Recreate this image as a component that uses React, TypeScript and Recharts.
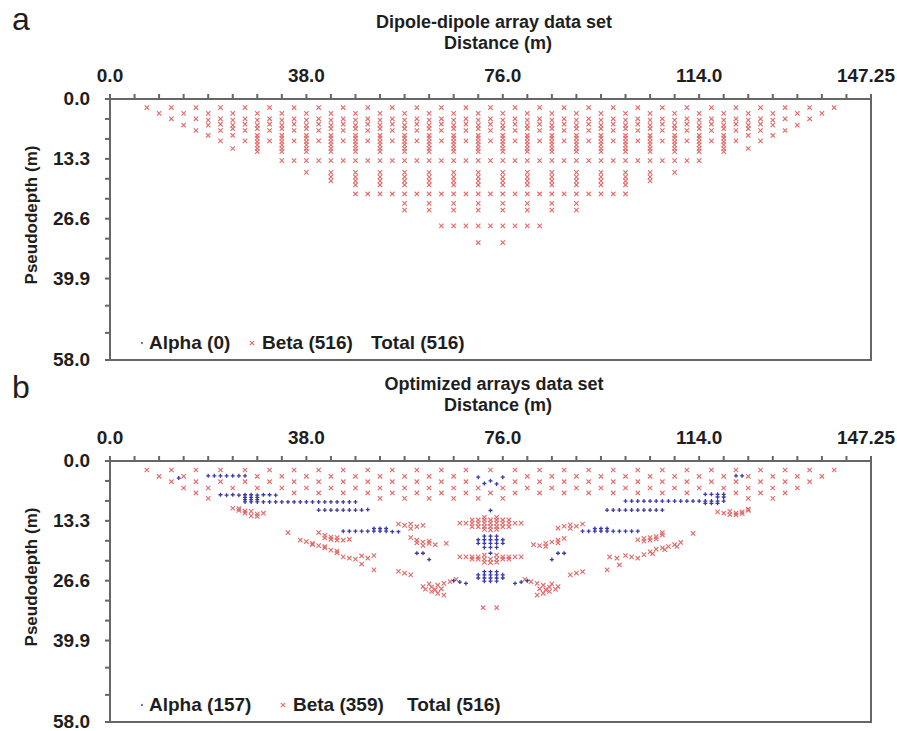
import React from "react";
import { ScatterChart, Scatter, XAxis, YAxis, ReferenceLine } from "recharts";

// electrode grid: 63 electrodes over 147.25 m
const ELECTRODE_SPACING = 2.375;

// ---- axis ticks ----
const xMajorTicks = [0, 38, 76, 114, 147.25];
const xTickLabels = ["0.0", "38.0", "76.0", "114.0", "147.25"];
const xMinorStep = 4.75;
const yTicks = [0, 4.43, 8.87, 13.3, 17.73, 22.17, 26.6, 31.03, 35.47, 39.9, 45.93, 51.97, 58];
const yMajorTicks = [0, 13.3, 26.6, 39.9, 58];
const yTickLabels = ["0.0", "13.3", "26.6", "39.9", "58.0"];

// ---- column sets (electrode index of the data point midpoint) ----
const odd3to59 = [3, 5, 7, 9, 11, 13, 15, 17, 19, 21, 23, 25, 27, 29, 31, 33, 35, 37, 39, 41, 43, 45, 47, 49, 51, 53, 55, 57, 59];
const even4to58 = [4, 6, 8, 10, 12, 14, 16, 18, 20, 22, 24, 26, 28, 30, 32, 34, 36, 38, 40, 42, 44, 46, 48, 50, 52, 54, 56, 58];
const odd5to57 = [5, 7, 9, 11, 13, 15, 17, 19, 21, 23, 25, 27, 29, 31, 33, 35, 37, 39, 41, 43, 45, 47, 49, 51, 53, 55, 57];
const even6to56 = [6, 8, 10, 12, 14, 16, 18, 20, 22, 24, 26, 28, 30, 32, 34, 36, 38, 40, 42, 44, 46, 48, 50, 52, 54, 56];
const odd7to55 = [7, 9, 11, 13, 15, 17, 19, 21, 23, 25, 27, 29, 31, 33, 35, 37, 39, 41, 43, 45, 47, 49, 51, 53, 55];
const even8to54 = [8, 10, 12, 14, 16, 18, 20, 22, 24, 26, 28, 30, 32, 34, 36, 38, 40, 42, 44, 46, 48, 50, 52, 54];
const odd9to53 = [9, 11, 13, 15, 17, 19, 21, 23, 25, 27, 29, 31, 33, 35, 37, 39, 41, 43, 45, 47, 49, 51, 53];
const even10to52 = [10, 12, 14, 16, 18, 20, 22, 24, 26, 28, 30, 32, 34, 36, 38, 40, 42, 44, 46, 48, 50, 52];
const even12to50 = [12, 14, 16, 18, 20, 22, 24, 26, 28, 30, 32, 34, 36, 38, 40, 42, 44, 46, 48, 50];
const all14to48 = [14, 15, 16, 17, 18, 19, 20, 21, 22, 23, 24, 25, 26, 27, 28, 29, 30, 31, 32, 33, 34, 35, 36, 37, 38, 39, 40, 41, 42, 43, 44, 45, 46, 47, 48];
const even16to46 = [16, 18, 20, 22, 24, 26, 28, 30, 32, 34, 36, 38, 40, 42, 44, 46];
const even18to44 = [18, 20, 22, 24, 26, 28, 30, 32, 34, 36, 38, 40, 42, 44];
const even20to42 = [20, 22, 24, 26, 28, 30, 32, 34, 36, 38, 40, 42];
const all20to42 = [20, 21, 22, 23, 24, 25, 26, 27, 28, 29, 30, 31, 32, 33, 34, 35, 36, 37, 38, 39, 40, 41, 42];
const even24to38 = [24, 26, 28, 30, 32, 34, 36, 38];
const all27to35 = [27, 28, 29, 30, 31, 32, 33, 34, 35];

// ---- (a) dipole-dipole data set: all beta ----
const ddDepths = [1.9, 3.2, 4.4, 4.7, 5.6, 5.8, 6.6, 7.0, 8.1, 8.7, 9.3, 9.5, 10.2, 11.0, 11.7, 13.7, 16.3, 17.3, 18.2, 19.1, 21.1, 23.2, 24.7, 28.2, 31.9];
const ddColumns = [
  odd3to59, even4to58, odd5to57, even8to54, odd9to53, even6to56, even10to52, odd7to55,
  even8to54, even12to50, odd9to53, even12to50, even12to50, even10to52, even12to50,
  all14to48, even16to46, even18to44, even18to44, even20to42, all20to42,
  even24to38, even24to38, all27to35, [30, 32],
];

// ---- (b) optimized data set ----
const optDepths = [2.0, 3.4, 4.6, 6.0, 7.1, 8.3];
const optColumns = [
  odd3to59,
  [4, 6, 12, 14, 16, 18, 20, 22, 24, 26, 28, 34, 36, 38, 40, 42, 44, 46, 48, 50, 52, 54, 56, 58],
  [5, 7, 9, 11, 13, 15, 17, 19, 21, 23, 25, 27, 29, 33, 35, 37, 39, 41, 43, 45, 47, 49, 51, 53, 55, 57],
  even6to56,
  [7, 15, 17, 19, 21, 23, 25, 27, 29, 31, 33, 35, 37, 39, 41, 43, 45, 47, 51, 53, 55],
  [8, 22, 24, 26, 28, 30, 32, 52, 54],
];

// beta clusters [electrode index, depth m]
const optBetaClusters: [number, number][] = [
  [10, 10.5], [10.5, 11.0], [11, 11.6], [11.5, 11.2], [12, 11.8], [11.5, 12.2], [12.5, 11.6], [11, 11.1], [12, 12.3], [10.5, 10.6],
  [14.5, 15.9], [17, 15.9], [17.5, 16.5], [18, 16.9], [18, 17.4], [18.5, 17.0], [19, 17.6], [17.5, 17.1], [18.5, 17.6], [19.5, 17.4],
  [15.5, 17.6], [16, 17.9], [16.5, 18.3], [17, 18.8], [17.5, 19.3], [18, 19.8], [18.5, 20.4], [19, 21.3], [19.5, 21.6], [20, 21.8],
  [20.5, 21.1], [21, 21.6], [21.5, 21.0], [16.5, 18.6], [17.5, 19.0], [18.5, 20.0],
  [20.5, 22.9], [21.5, 24.2], [23.5, 24.5], [24, 24.9], [24.5, 25.3],
  [23.5, 14.0], [24, 14.3], [24.5, 14.0], [25, 14.6], [25.5, 14.3], [24.5, 15.0],
  [24.5, 17.0], [25, 17.6], [25.5, 18.0], [26, 18.3], [26.5, 18.6], [25, 18.2], [25.5, 18.8], [26, 17.8], [27.4, 18.3],
  [28.2, 26.3], [27.7, 26.8], [27.2, 27.2], [26.7, 27.6], [26.2, 28.0], [25.7, 28.5], [26.2, 29.0], [26.7, 29.4], [27.2, 29.8],
  [26, 27.3], [27, 28.4], [25.5, 27.9], [26.5, 28.6],
  [29.5, 13.1], [30, 13.1], [30.5, 13.1], [31, 13.1], [31.5, 13.1], [32, 13.1], [32.5, 13.1],
  [28.5, 13.8], [29, 13.8], [29.5, 13.8], [30, 13.8], [30.5, 13.8], [31, 13.8], [31.5, 13.8], [32, 13.8], [32.5, 13.8], [33, 13.8], [33.5, 13.8],
  [29.5, 14.6], [30, 14.6], [30.5, 14.6], [31, 14.6], [31.5, 14.6], [32, 14.6], [32.5, 14.6],
  [30.5, 12.5], [31.5, 12.5], [30.5, 15.2], [31, 15.3], [31.5, 15.2],
  [28.5, 21.3], [29, 21.3], [29.5, 21.3], [30, 21.3], [32, 21.3], [32.5, 21.3], [33, 21.3], [33.5, 21.3],
  [29.5, 21.8], [30, 21.8], [30.5, 21.8], [31, 21.8], [31.5, 21.8], [32, 21.8], [32.5, 21.8],
  [30.5, 22.5], [31, 22.6], [31.5, 22.5], [30.5, 20.9], [31.5, 20.9],
  [30.4, 32.6], [31.5, 32.6],
  [49.5, 11.3], [50, 11.6], [50.5, 11.9], [51, 11.6], [51.5, 11.3], [52, 11.0], [50.5, 11.2], [51, 12.0], [51.5, 11.7], [52, 10.7],
  [43, 17.5], [43.5, 17.2], [44, 17.0], [44, 17.6], [44.5, 16.8], [45, 16.4], [43.5, 17.8], [44.5, 17.3], [45, 15.9], [47.5, 16.1],
  [40.7, 21.3], [41.3, 21.6], [42, 21.0], [42.5, 21.3], [43, 21.6], [43.5, 20.8], [44, 20.2], [44.5, 19.6], [45, 19.3], [45.5, 19.0],
  [46, 18.6], [46.5, 18.1], [44.2, 20.6], [45.2, 19.7], [46.2, 19.0], [41.5, 23.1],
  [37.5, 25.3], [38, 24.9], [38.5, 24.6], [40.5, 24.2],
  [36.5, 14.9], [37, 14.5], [37.5, 14.2], [38, 14.5], [38.5, 14.0], [37.5, 15.0],
  [34.5, 18.6], [35, 18.8], [35.5, 18.3], [36, 18.0], [36.5, 17.6], [37, 17.2], [35.5, 19.0], [36.5, 18.2],
  [33.8, 26.3], [34.3, 26.8], [34.8, 27.2], [35.3, 27.6], [35.8, 28.0], [36.3, 28.5], [35.8, 29.0], [35.3, 29.4], [34.8, 29.8],
  [36, 27.3], [35, 28.4], [36.5, 27.9], [35.5, 28.6],
];

// alpha points [electrode index, depth m]
const optAlpha: [number, number][] = [
  [5.6, 3.8],
  [8, 3.3], [8.5, 3.3], [9, 3.3], [9.5, 3.3], [10, 3.3], [10.5, 3.3], [11, 3.3],
  [9, 7.5], [9.5, 7.6], [10, 7.5], [10.5, 7.6], [11, 7.5], [11.5, 7.5], [12, 7.6], [12.5, 7.5], [13, 7.5], [13.5, 7.6],
  [11, 8.1], [11.5, 8.1], [12, 8.1], [11, 8.6], [11.5, 8.6], [12, 8.6],
  [11, 9.1], [11.5, 9.1], [12, 9.1], [12.5, 9.1], [13, 9.1], [13.5, 9.1], [14, 9.1], [14.5, 9.1], [15, 9.1], [15.5, 9.1],
  [16, 9.1], [16.5, 9.1], [17, 9.1], [17.5, 9.1], [18, 9.1], [18.5, 9.1], [19, 9.1], [19.5, 9.1], [20, 9.1],
  [17, 10.9], [17.5, 10.9], [18, 10.9], [18.5, 10.9], [19, 10.9], [19.5, 10.9], [20, 10.9], [20.5, 10.9], [21, 10.8],
  [19, 15.6], [19.5, 15.6], [20, 15.6], [20.5, 15.6], [21, 15.6], [21.5, 15.6], [22, 15.6], [22.5, 15.6], [23, 15.7], [23.5, 15.7],
  [21.5, 15.0], [22, 15.0], [22.5, 15.0],
  [25, 20.5], [25.5, 20.5], [26, 21.9],
  [30, 3.6], [30.5, 5.0], [31, 4.4], [31.5, 5.1], [32, 3.6],
  [31, 11.0],
  [30.5, 16.7], [31, 16.7], [31.5, 16.7],
  [30, 17.5], [30.5, 17.5], [31, 17.5], [31.5, 17.5], [32, 17.5],
  [30, 18.3], [30.5, 18.3], [31, 18.3], [31.5, 18.3], [32, 18.3],
  [30.5, 19.2], [31, 19.2], [31.5, 19.2],
  [31, 20.5],
  [30.5, 24.6], [31, 24.6], [31.5, 24.6],
  [30, 25.3], [30.5, 25.3], [31, 25.3], [31.5, 25.3], [32, 25.3],
  [30, 26.0], [30.5, 26.0], [31, 26.0], [31.5, 26.0], [32, 26.0],
  [30.5, 26.7], [31, 26.7], [31.5, 26.7],
  [28, 26.6], [28.5, 26.9], [29, 27.2], [33, 27.2], [33.5, 26.9], [34, 26.6],
  [51, 3.3], [51.5, 3.3],
  [48.5, 7.4], [49, 7.4], [49.5, 7.4], [50, 7.4], [49.5, 8.0], [50, 8.0],
  [42, 8.9], [42.5, 8.9], [43, 8.9], [43.5, 8.9], [44, 8.9], [44.5, 8.9], [45, 8.9], [45.5, 8.9], [46, 8.9],
  [46.5, 8.9], [47, 8.9], [47.5, 8.9], [48, 8.9], [48.5, 8.9], [49, 8.9], [49.5, 8.9], [50, 8.9],
  [48.5, 9.4], [49, 9.4], [49.5, 9.4],
  [40.5, 10.9], [41, 10.9], [41.5, 10.9], [42, 10.9], [42.5, 10.9], [43, 10.9], [43.5, 10.9], [44, 10.9], [44.5, 10.9], [45, 10.9],
  [38.5, 15.6], [39, 15.6], [39.5, 15.6], [40, 15.6], [40.5, 15.6], [41, 15.6], [41.5, 15.6], [42, 15.6], [42.5, 15.6], [43, 15.6],
  [39.5, 15.0], [40, 15.0], [40.5, 15.0],
  [36, 21.9], [36.5, 20.5], [37, 20.5],
];

// ---- build scatter data ----
type Pt = { x: number; y: number };
const fromRows = (depths: number[], cols: number[][]): Pt[] =>
  depths.flatMap((d, i) => cols[i].map((k) => ({ x: k * ELECTRODE_SPACING, y: d })));
const fromPairs = (pairs: [number, number][]): Pt[] =>
  pairs.map(([k, d]) => ({ x: k * ELECTRODE_SPACING, y: d }));

const ddBeta = fromRows(ddDepths, ddColumns);
const optBeta = [...fromRows(optDepths, optColumns), ...fromPairs(optBetaClusters)];
const optAlphaPts = fromPairs(optAlpha);

const xTicks: number[] = [];
for (let v = 0; v <= 147.25; v += xMinorStep) xTicks.push(v);

// ---- look ----
const FONT = '"Liberation Sans", Arial, Helvetica, sans-serif';
const BETA_COLOR = "#e26a6a";
const ALPHA_COLOR = "#3b3ba6";
const AXIS_COLOR = "#666666";
const TEXT_COLOR = "#1e1e1e";
const PLOT_TOP = 99;
const PLOT_LEFT = 110;
const PLOT_W = 761;
const PLOT_H = 261;
const PANEL_B_TOP = 362;
const X_DOMAIN: [number, number] = [0, 147.25];
const Y_DOMAIN: [number, number] = [0, 58];

const BetaMark = (p: any) => {
  const { cx, cy } = p;
  if (cx == null || cy == null) return <g />;
  const r = 2.2;
  return (
    <path
      d={`M${cx - r},${cy - r}L${cx + r},${cy + r}M${cx - r},${cy + r}L${cx + r},${cy - r}`}
      stroke={BETA_COLOR}
      strokeWidth={1.1}
      fill="none"
    />
  );
};

const AlphaMark = (p: any) => {
  const { cx, cy } = p;
  if (cx == null || cy == null) return <g />;
  const r = 2;
  return (
    <path
      d={`M${cx - r},${cy}L${cx + r},${cy}M${cx},${cy - r}L${cx},${cy + r}`}
      stroke={ALPHA_COLOR}
      strokeWidth={1.3}
      fill="none"
    />
  );
};

// x ticks: short mark on the frame, label for the major values
const XTick = (p: any) => {
  const i = xMajorTicks.indexOf(p.payload.value);
  const last = i === xMajorTicks.length - 1;
  return (
    <g>
      <rect x={p.x - 1} y={PLOT_TOP - 5} width={2} height={5} fill={AXIS_COLOR} />
      {i >= 0 && (
        <text
          x={last ? p.x + 24 : p.x}
          y={PLOT_TOP - 17}
          textAnchor={last ? "end" : "middle"}
          fontFamily={FONT}
          fontSize={19}
          fontWeight="bold"
          fill={TEXT_COLOR}
        >
          {xTickLabels[i]}
        </text>
      )}
    </g>
  );
};

// y ticks: short mark on the frame plus label for the major values
const YTick = (p: any) => {
  const i = yMajorTicks.indexOf(p.payload.value);
  return (
    <g>
      <rect x={PLOT_LEFT - 5} y={p.y - 1} width={5} height={2} fill={AXIS_COLOR} />
      {i >= 0 && (
        <text
          x={PLOT_LEFT - 20}
          y={p.y + 6}
          textAnchor="end"
          fontFamily={FONT}
          fontSize={19}
          fontWeight="bold"
          fill={TEXT_COLOR}
        >
          {yTickLabels[i]}
        </text>
      )}
    </g>
  );
};

interface PanelProps {
  top: number;
  height: number;
  alpha: Pt[];
  beta: Pt[];
}

function Panel({ top, height, alpha, beta }: PanelProps) {
  return (
    <div style={{ position: "absolute", left: 0, top }}>
      <ScatterChart
        width={897}
        height={height}
        margin={{ top: PLOT_TOP - 30, right: 26, bottom: height - PLOT_TOP - PLOT_H, left: PLOT_LEFT - 60 }}
      >
        <XAxis
          type="number"
          dataKey="x"
          orientation="top"
          height={30}
          domain={X_DOMAIN}
          ticks={xTicks}
          interval={0}
          tick={XTick}
          tickLine={false}
          axisLine={false}
        />
        <YAxis
          type="number"
          dataKey="y"
          width={60}
          domain={Y_DOMAIN}
          reversed
          ticks={yTicks}
          interval={0}
          tick={YTick}
          tickLine={false}
          axisLine={false}
        />
        {/* plot frame */}
        <ReferenceLine x={X_DOMAIN[0]} stroke={AXIS_COLOR} strokeWidth={2} ifOverflow="visible" />
        <ReferenceLine x={X_DOMAIN[1]} stroke={AXIS_COLOR} strokeWidth={2} ifOverflow="visible" />
        <ReferenceLine y={Y_DOMAIN[0]} stroke={AXIS_COLOR} strokeWidth={2} ifOverflow="visible" />
        <ReferenceLine y={Y_DOMAIN[1]} stroke={AXIS_COLOR} strokeWidth={2} ifOverflow="visible" />
        <Scatter data={beta} shape={BetaMark} isAnimationActive={false} />
        <Scatter data={alpha} shape={AlphaMark} isAnimationActive={false} />
      </ScatterChart>
    </div>
  );
}

// frame edges as plain blocks on top of both panels
function FrameEdges({ top }: { top: number }) {
  const base: React.CSSProperties = { position: "absolute", background: AXIS_COLOR, zIndex: 5 };
  return (
    <>
      <div style={{ ...base, left: PLOT_LEFT - 1, top: top - 1, width: PLOT_W + 2, height: 2 }} />
      <div style={{ ...base, left: PLOT_LEFT - 1, top: top + PLOT_H - 1, width: PLOT_W + 2, height: 2 }} />
      <div style={{ ...base, left: PLOT_LEFT - 1, top: top - 1, width: 2, height: PLOT_H + 2 }} />
      <div style={{ ...base, left: PLOT_LEFT + PLOT_W - 1, top: top - 1, width: 2, height: PLOT_H + 2 }} />
    </>
  );
}

const textProps = { fontFamily: FONT, fill: TEXT_COLOR } as const;

function Overlay() {
  const legendA = 349;
  const legendB = 711;
  return (
    <svg width={897} height={731} style={{ position: "absolute", left: 0, top: 0, pointerEvents: "none" }}>
      {/* panel a */}
      <text x={12} y={30} fontSize={32} {...textProps}>a</text>
      <text x={494} y={28} fontSize={18} fontWeight="bold" textAnchor="middle" {...textProps}>
        Dipole-dipole array data set
      </text>
      <text x={498} y={49} fontSize={18} fontWeight="bold" textAnchor="middle" {...textProps}>
        Distance (m)
      </text>
      <text transform="translate(37,215) rotate(-90)" fontSize={17} fontWeight="bold" textAnchor="middle" {...textProps}>
        Pseudodepth (m)
      </text>
      <circle cx={142} cy={legendA - 6} r={1.2} fill="#7777aa" />
      <text x={149} y={legendA} fontSize={19} fontWeight="bold" {...textProps}>Alpha (0)</text>
      <BetaMark cx={252} cy={legendA - 6} />
      <text x={262} y={legendA} fontSize={19} fontWeight="bold" {...textProps}>Beta (516)</text>
      <text x={371} y={legendA} fontSize={19} fontWeight="bold" {...textProps}>Total (516)</text>

      {/* panel b */}
      <text x={12} y={398} fontSize={32} {...textProps}>b</text>
      <text x={494} y={390} fontSize={18} fontWeight="bold" textAnchor="middle" {...textProps}>
        Optimized arrays data set
      </text>
      <text x={498} y={411} fontSize={18} fontWeight="bold" textAnchor="middle" {...textProps}>
        Distance (m)
      </text>
      <text transform="translate(37,577) rotate(-90)" fontSize={17} fontWeight="bold" textAnchor="middle" {...textProps}>
        Pseudodepth (m)
      </text>
      <circle cx={142} cy={legendB - 6} r={1.2} fill="#7777aa" />
      <text x={149} y={legendB} fontSize={19} fontWeight="bold" {...textProps}>Alpha (157)</text>
      <BetaMark cx={283} cy={legendB - 6} />
      <text x={293} y={legendB} fontSize={19} fontWeight="bold" {...textProps}>Beta (359)</text>
      <text x={407} y={legendB} fontSize={19} fontWeight="bold" {...textProps}>Total (516)</text>
    </svg>
  );
}

export default function App() {
  return (
    <div style={{ position: "absolute", left: 0, top: 0, width: 897, height: 731, background: "#fff", overflow: "hidden" }}>
      <Panel top={0} height={372} alpha={[]} beta={ddBeta} />
      <Panel top={PANEL_B_TOP} height={369} alpha={optAlphaPts} beta={optBeta} />
      <FrameEdges top={PLOT_TOP} />
      <FrameEdges top={PANEL_B_TOP + PLOT_TOP} />
      <Overlay />
    </div>
  );
}
